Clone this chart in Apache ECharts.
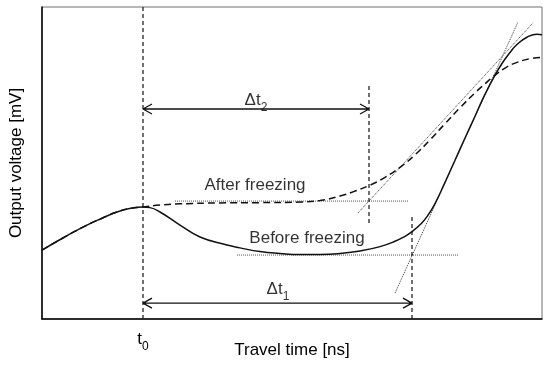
<!DOCTYPE html>
<html>
<head>
<meta charset="utf-8">
<script src="https://cdn.jsdelivr.net/npm/echarts@6/dist/echarts.min.js"></script>
<style>html,body{margin:0;padding:0;background:#fff}#c{width:550px;height:367px}</style>
</head>
<body>
<div id="c"></div>
<script>
// Curve values (travel time, output voltage) in relative units 0..100
var beforeFreezing = [
  [0,22.1],[4,25.8],[8,29.3],[12,32.3],[15,34.3],[17.5,35.4],[20.2,35.9],
  [21.6,35.7],[23.6,34.3],[27.6,30.1],[31.6,26.3],[37,23.7],[39.6,22.8],[43.6,21.6],[47.6,21.0],
  [51.6,20.7],[55.6,20.7],[59.6,21.0],[63.6,21.8],[67.6,23.2],[70.6,24.9],[72.6,26.5],[74,28.0],
  [75.6,30.2],[77,32.8],[78.6,37.0],[80.6,43.8],[82.6,50.9],[84.6,58.0],[86.6,65.0],[88,70.0],
  [89.2,73.9],[90.2,77.0],[92,81.9],[93.6,85.4],[95,88.0],[97,90.3],[99,91.3],[100,91.1]
];
var afterFreezing = [
  [0,22.1],[4,25.8],[8,29.3],[12,32.3],[15,34.3],[17.5,35.4],[20.2,35.9],
  [23.6,36.5],[27.6,36.9],[35.6,37.2],[43.6,37.3],[51.6,37.5],[55.6,38],[59.6,39.4],[62.6,41],
  [65.6,42.9],[68.6,45.4],[71.6,48.6],[74.6,52.6],[77.6,57.4],[80.6,62.6],[83.6,67.7],[86.6,72.5],
  [88.6,75.4],[90.2,77.6],[92.6,80.4],[94.6,82.0],[97.6,83.4],[100,83.8]
];
// Tangent / baseline construction lines
var tangentAfter = [[63.2,34.0],[98.2,94.9]];
var tangentBefore = [[70.6,8.3],[95.2,95.2]];
var baseAfter = [[26.6,37.8],[73.2,37.8]];
var baseBefore = [[39,20.5],[83.2,20.5]];
// Time markers
var t0 = 20.2, t2 = 65.4, t1 = 74;
var vT0 = [[t0,0],[t0,100]];
var vT2 = [[t2,30.8],[t2,75.6]];
var vT1 = [[t1,0],[t1,33.3]];
var arrowY2 = 67.3, arrowY1 = 5.1;
// Text labels [x, y, text]
var labels = [
  [42.6,42.9,'After freezing'],
  [53,26,'Before freezing'],
  [42.8,70.2,'{a|Δt}{b|2}'],
  [47.2,9.6,'{a|Δt}{b|1}']
];
var tickLabels = [t0];

var ah = 1.8, av = 1.6;
function arrowData(x1, x2, y) {
  return [[x1 + ah, y + av],[x1, y],[x1 + ah, y - av],'-',
          [x1, y],[x2, y],'-',
          [x2 - ah, y + av],[x2, y],[x2 - ah, y - av]];
}
function line(data, style, extra) {
  var s = {type:'line', data:data, showSymbol:false, symbol:'none', silent:true,
    lineStyle:style, connectNulls:false, z:2, animation:false};
  if (extra) for (var k in extra) s[k]=extra[k];
  return s;
}
var rich = {
  a:{fontSize:17, fontFamily:'Liberation Sans', color:'#000'},
  b:{fontSize:12, fontFamily:'Liberation Sans', color:'#000', verticalAlign:'bottom', padding:[0,0,-5,0]}
};
var chart = echarts.init(document.getElementById('c'), null, {renderer:'canvas'});
chart.setOption({
  animation:false,
  grid:{left:42,right:8,top:7,bottom:48,outerBoundsMode:'none',containLabel:false,show:true,borderColor:'#707070',borderWidth:1,backgroundColor:'transparent'},
  xAxis:{type:'value',min:0,max:100,
    name:'Travel time [ns]',nameLocation:'middle',nameGap:23,nameMoveOverlap:false,
    nameTextStyle:{fontSize:17,fontFamily:'Liberation Sans',color:'#000'},
    axisLine:{show:true,lineStyle:{color:'#000',width:1.5}},
    axisTick:{show:false},splitLine:{show:false},
    axisLabel:{show:true,customValues:tickLabels,margin:12,formatter:function(){return '{a|t}{b|0}';},rich:rich}},
  yAxis:{type:'value',min:0,max:100,
    name:'Output voltage [mV]',nameLocation:'middle',nameGap:17,nameMoveOverlap:false,
    nameTextStyle:{fontSize:17,fontFamily:'Liberation Sans',color:'#000'},
    axisLine:{show:true,lineStyle:{color:'#000',width:1.5}},
    axisTick:{show:false},splitLine:{show:false},axisLabel:{show:false}},
  series:[
    line(baseAfter,{color:'#555',width:1,type:[1,1]}),
    line(baseBefore,{color:'#555',width:1,type:[1,1]}),
    line(tangentAfter,{color:'#333',width:1,type:[1,1]}),
    line(tangentBefore,{color:'#333',width:1,type:[1,1]}),
    line(vT0,{color:'#222',width:1.3,type:[4,3]}),
    line(vT2,{color:'#222',width:1.3,type:[4,3]}),
    line(vT1,{color:'#222',width:1.3,type:[4,3]}),
    line(arrowData(t0,t2,arrowY2),{color:'#111',width:1.3}),
    line(arrowData(t0,t1,arrowY1),{color:'#111',width:1.3}),
    line(afterFreezing,{color:'#111',width:1.5,type:[7,4]},{smooth:0.5,z:3}),
    line(beforeFreezing,{color:'#111',width:1.5},{smooth:0.5,z:4}),
    {type:'scatter',data:labels,symbolSize:0,silent:true,z:5,clip:false,animation:false,
     label:{show:true,position:'inside',formatter:function(p){return p.data[2];},
       fontSize:17,fontFamily:'Liberation Sans',color:'#000',textBorderWidth:0,rich:rich}}
  ]
});
</script>
</body>
</html>
